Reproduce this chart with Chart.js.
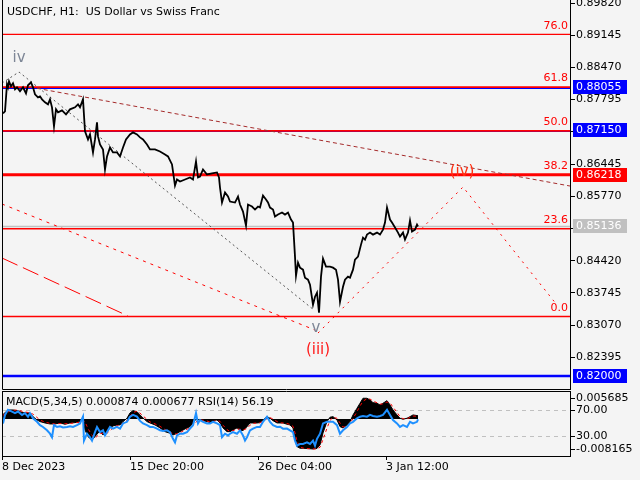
<!DOCTYPE html>
<html><head><meta charset="utf-8">
<script src="https://cdn.jsdelivr.net/npm/chart.js@4.4.1/dist/chart.umd.min.js"></script>
<style>
html,body{margin:0;padding:0;background:#f4f4f4;width:640px;height:480px;overflow:hidden}
#w1{position:absolute;left:0;top:0;width:640px;height:390px}
#w2{position:absolute;left:0;top:390px;width:640px;height:90px}
</style></head><body>
<div id="w1"><canvas id="main" width="640" height="390"></canvas></div>
<div id="w2"><canvas id="sub" width="640" height="90"></canvas></div>
<script>
// ---------------- DATA ----------------
const titleText = 'USDCHF, H1:  US Dollar vs Swiss Franc';
const subTitleText = 'MACD(5,34,5) 0.000874 0.000677 RSI(14) 56.19';

const priceTicks = [0.82395, 0.83070, 0.83745, 0.84420, 0.85095, 0.85770, 0.86445, 0.87120, 0.87795, 0.88470, 0.89145, 0.89820];
const timeTickBars = [2, 130, 258, 386];
const timeTickLabels = ['8 Dec 2023', '15 Dec 20:00', '26 Dec 04:00', '3 Jan 12:00'];

const priceBars = [3,5,7,8,9,11,13,15,17,20,23,26,28,31,33,35,38,40,42,45,48,50,52,54,56,58,62,66,70,75,78,80,83,85,88,90,93,95,97,98,100,103,105,107,110,113,117,120,123,126,130,133,137,140,143,147,
150,155,160,165,168,172,175,177,180,185,190,193,196,198,200,203,207,212,217,219,220,222,225,228,230,235,238,240,243,246,248,252,255,258,260,263,266,268,270,273,275,278,282,285,288,291,293,
294,295,296,298,300,303,305,308,310,313,315,317,319,321,323,326,330,333,336,338,340,343,345,348,350,353,355,358,361,363,365,367,370,373,377,380,383,385,387,390,392,395,398,400,403,405,408,410,412,415,417,418];
const closePrices = [0.87507,0.87549,0.88116,0.88053,0.88179,0.88074,0.88137,0.88011,0.88053,0.87969,0.88053,0.87927,0.88095,0.88158,0.88053,0.87906,0.87843,0.87864,0.87801,0.87738,0.87696,0.87801,0.87633,0.87234,0.87591,0.87528,0.87570,0.87486,0.87591,0.87633,0.87696,0.87633,0.87801,0.87129,0.86961,0.87066,0.86688,0.86961,0.87318,0.87024,0.86856,0.86751,0.86331,0.86604,0.86793,0.86688,0.86688,0.86604,0.86793,0.86961,0.87066,0.87108,0.87066,0.87003,0.86961,0.86856,
0.86751,0.86751,0.86709,0.86646,0.86604,0.86436,0.85995,0.86121,0.86079,0.86121,0.86163,0.86121,0.86499,0.86163,0.86184,0.86331,0.86226,0.86247,0.86268,0.86163,0.85953,0.85638,0.85848,0.85764,0.85659,0.85638,0.85764,0.85596,0.85449,0.85155,0.85596,0.85554,0.85491,0.85554,0.85533,0.85785,0.85701,0.85638,0.85533,0.85491,0.85344,0.85386,0.85428,0.85386,0.85428,0.85281,0.85218,
0.84861,0.84504,0.84105,0.84378,0.84273,0.84231,0.84063,0.84021,0.83916,0.83496,0.83664,0.83748,0.83328,0.84084,0.84462,0.84294,0.84294,0.84273,0.84231,0.84021,0.83559,0.83874,0.84021,0.84084,0.84063,0.84231,0.84441,0.84504,0.84756,0.84903,0.84861,0.84966,0.85008,0.84966,0.85008,0.84966,0.85071,0.85218,0.85533,0.85281,0.85218,0.85113,0.85008,0.84924,0.85008,0.84861,0.85008,0.85260,0.85029,0.85071,0.85176,0.85136];

const fibLevels = [0.0, 23.6, 38.2, 50.0, 61.8, 76.0];
const fibLowPrice = 0.83250;
const fibHighPrice = 0.91030;
const markedPrices = [0.88055, 0.87150, 0.86218, 0.85136, 0.82000];

const waveBars = [2, 19, 314];
const wavePrices = [0.88143, 0.88374, 0.83385];
const projBars = [318, 463, 557];
const projPrices = [0.82903, 0.85963, 0.83490];
const trendBars = [30, 570];
const trendPrices = [0.88059, 0.85984];
const chanABars = [2, 315];
const chanAPrices = [0.85607, 0.82966];
const chanBBars = [2, 128];
const chanBPrices = [0.84475, 0.83260];

const macdBars = [3,8,13,17,20,23,27,30,33,37,40,45,50,55,60,65,70,75,80,83,85,88,92,95,98,100,103,107,110,113,117,120,123,127,130,133,137,140,143,147,150,155,160,165,170,173,177,180,183,187,190,193,196,200,203,207,210,213,217,220,223,227,230,233,237,240,243,247,250,253,257,260,263,267,270,273,277,280,283,287,290,293,295,297,300,303,307,310,313,317,320,323,327,330,333,337,340,343,347,350,353,357,360,363,367,370,373,377,380,383,387,390,393,397,400,403,407,410,413,418];
const macdVals = [0.00120,0.00244,0.00244,0.00225,0.00198,0.00171,0.00163,0.00163,0.00062,-0.00027,-0.00073,-0.00109,-0.00136,-0.00136,-0.00109,-0.00144,-0.00109,-0.00100,-0.00073,0.00027,-0.00299,-0.00481,-0.00570,-0.00481,-0.00380,-0.00345,-0.00435,-0.00345,-0.00244,-0.00190,-0.00163,-0.00163,-0.00073,0.00019,0.00163,0.00225,0.00198,0.00109,0.00027,-0.00073,-0.00109,-0.00163,-0.00244,-0.00345,-0.00388,-0.00435,-0.00388,-0.00345,-0.00299,-0.00244,-0.00209,-0.00109,-0.00008,-0.00027,-0.00046,-0.00073,-0.00100,-0.00046,-0.00027,-0.00109,-0.00244,-0.00345,-0.00345,-0.00299,-0.00244,-0.00299,-0.00318,-0.00209,-0.00109,-0.00109,-0.00109,-0.00100,-0.00027,0.00062,0.00019,-0.00046,-0.00109,-0.00109,-0.00109,-0.00144,-0.00163,-0.00244,-0.00570,-0.00752,-0.00796,-0.00796,-0.00805,-0.00810,-0.00816,-0.00800,-0.00706,-0.00380,-0.00073,0.00046,0.00062,-0.00027,-0.00209,-0.00244,-0.00163,-0.00073,0.00109,0.00291,0.00426,0.00562,0.00562,0.00516,0.00443,0.00426,0.00380,0.00426,0.00497,0.00380,0.00244,0.00109,0.00019,-0.00008,0.00019,0.00062,0.00109,0.00087];
const signalVals = [0.00100,0.00190,0.00235,0.00240,0.00225,0.00200,0.00180,0.00168,0.00130,0.00040,-0.00030,-0.00085,-0.00120,-0.00135,-0.00125,-0.00130,-0.00125,-0.00105,-0.00090,-0.00040,-0.00080,-0.00260,-0.00450,-0.00520,-0.00450,-0.00390,-0.00390,-0.00390,-0.00320,-0.00240,-0.00185,-0.00165,-0.00120,-0.00040,0.00070,0.00170,0.00210,0.00160,0.00080,-0.00010,-0.00080,-0.00135,-0.00200,-0.00290,-0.00360,-0.00400,-0.00410,-0.00375,-0.00330,-0.00280,-0.00235,-0.00170,-0.00080,-0.00030,-0.00035,-0.00055,-0.00080,-0.00070,-0.00045,-0.00065,-0.00170,-0.00290,-0.00340,-0.00320,-0.00275,-0.00280,-0.00300,-0.00260,-0.00170,-0.00120,-0.00110,-0.00105,-0.00065,0.00010,0.00035,0.00000,-0.00070,-0.00105,-0.00110,-0.00125,-0.00150,-0.00200,-0.00380,-0.00600,-0.00760,-0.00790,-0.00805,-0.00810,-0.00815,-0.00815,-0.00770,-0.00560,-0.00250,-0.00040,0.00040,0.00020,-0.00110,-0.00220,-0.00200,-0.00120,0.00010,0.00200,0.00350,0.00480,0.00550,0.00540,0.00490,0.00440,0.00400,0.00410,0.00460,0.00440,0.00320,0.00180,0.00060,0.00005,0.00005,0.00040,0.00080,0.00068];

const rsiBars = [3,5,8,12,15,18,22,25,28,30,33,37,40,43,47,50,52,54,57,60,63,67,70,73,77,80,83,84,87,90,92,95,97,100,103,105,108,110,113,117,120,123,127,130,133,137,140,143,147,150,153,157,160,163,167,170,173,175,177,180,183,187,190,193,196,198,200,203,207,210,213,217,220,222,225,228,230,233,237,240,243,245,247,250,253,257,260,263,267,270,273,277,280,283,287,290,293,295,297,300,303,307,310,313,315,317,320,323,327,330,333,337,340,343,347,350,353,357,360,363,367,370,373,377,380,383,387,390,393,397,400,403,407,410,413,417,418];
const rsiVals = [50.1,63.2,71.1,68.4,65.9,68.4,63.2,65.9,60.5,65.9,58.0,52.6,47.4,44.7,39.5,34.3,28.9,47.4,44.7,45.8,43.8,44.7,45.8,44.7,47.4,50.1,60.5,23.7,34.3,28.9,23.7,36.8,44.7,36.8,39.5,31.6,39.5,44.7,42.2,44.7,42.2,50.1,52.6,60.5,63.2,60.5,54.0,50.1,47.4,44.7,44.7,42.2,39.5,38.4,39.5,36.8,26.4,21.0,31.6,34.3,34.3,36.8,42.2,47.4,65.9,50.1,55.3,52.6,50.1,50.1,52.6,50.1,47.4,28.9,34.3,31.6,34.3,36.8,34.3,39.5,31.6,23.7,28.9,39.5,42.2,44.7,44.7,52.6,60.5,52.6,47.4,44.7,45.0,42.0,42.2,39.5,36.8,23.7,15.8,18.5,18.5,21.0,18.5,23.7,15.8,26.4,34.3,50.1,52.6,52.6,52.6,47.4,34.3,39.5,44.7,50.1,52.6,58.0,60.5,61.6,60.5,63.2,61.6,60.5,61.6,63.2,71.1,63.2,55.3,50.1,44.7,47.4,44.7,52.6,50.1,52.6,56.19];
const rsiLevels = [30, 70];
const macdScaleLabels = [0.005685, -0.008165];

// ---------------- HELPERS ----------------
const FONT = '"DejaVu Sans"';
Chart.defaults.font.family = 'DejaVu Sans';
Chart.defaults.font.size = 11;
Chart.defaults.color = '#000';
const pts = (xs, ys) => xs.map((x, i) => ({x: x, y: ys[i]}));
const fibPrice = l => fibLowPrice + (fibHighPrice - fibLowPrice) * l / 100;
const X_MIN = 2, X_MAX = 570;
const hline = (v) => [{x: X_MIN, y: v}, {x: X_MAX, y: v}];

const fibWidths = {'0': 1.4, '23.6': 1.5, '38.2': 3, '50': 1.8, '61.8': 1.8, '76': 1.2};
// kind: 'under' = thin line just below a fib line (drawn by plugin), 'line' = own line, 'none' = box only
const markStyles = [
  {kind: 'under', color: '#0000ff', width: 1, box: '#0000ff'},
  {kind: 'under', color: '#0000ff', width: 1, box: '#0000ff'},
  {kind: 'none', box: '#ff0000'},
  {kind: 'line', color: '#c0c0c0', width: 1.4, box: '#c0c0c0'},
  {kind: 'line', color: '#0000ff', width: 2.5, box: '#0000ff'}
];

const base = {type: 'line', pointRadius: 0, tension: 0, fill: false};

const mainDatasets = [];
mainDatasets.push(Object.assign({}, base, {data: pts(priceBars, closePrices), borderColor: '#000', borderWidth: 1.8, order: 0}));
fibLevels.forEach(l => mainDatasets.push(Object.assign({}, base, {data: hline(fibPrice(l)), borderColor: '#ff0000', borderWidth: fibWidths[String(l)], order: 2})));
markedPrices.forEach((p, i) => { if (markStyles[i].kind === 'line') mainDatasets.push(Object.assign({}, base, {data: hline(p), borderColor: markStyles[i].color, borderWidth: markStyles[i].width, order: 3})); });
mainDatasets.push(Object.assign({}, base, {data: pts(waveBars, wavePrices), borderColor: '#555555', borderWidth: 1, borderDash: [2, 3], order: 1}));
mainDatasets.push(Object.assign({}, base, {data: pts(projBars, projPrices), borderColor: '#ff0000', borderWidth: 1, borderDash: [2, 5], order: 1}));
mainDatasets.push(Object.assign({}, base, {data: pts(trendBars, trendPrices), borderColor: '#a52a2a', borderWidth: 1, borderDash: [4, 3], order: 1}));
mainDatasets.push(Object.assign({}, base, {data: pts(chanABars, chanAPrices), borderColor: '#ff0000', borderWidth: 1, borderDash: [3, 5], order: 1}));
mainDatasets.push(Object.assign({}, base, {data: pts(chanBBars, chanBPrices), borderColor: '#ff0000', borderWidth: 1, borderDash: [17, 6], order: 1}));

const waveLabels = [
  {text: 'iv', bar: 19, price: 0.88667, color: '#7d8696'},
  {text: 'v', bar: 316, price: 0.83008, color: '#7d8696'},
  {text: '(iii)', bar: 318, price: 0.82547, color: '#ff1a1a'},
  {text: '(iv)', bar: 462, price: 0.86278, color: '#ff3010'}
];

const mainDecor = {
  id: 'mainDecor',
  beforeDatasetsDraw(chart) {
    const {ctx, chartArea: a} = chart;
    const y = chart.scales.y;
    ctx.save();
    markedPrices.forEach((p, i) => {
      const s = markStyles[i];
      if (s.kind !== 'under') return;
      const py = Math.round(y.getPixelForValue(p)) + 1.5;
      ctx.strokeStyle = s.color; ctx.lineWidth = s.width;
      ctx.beginPath(); ctx.moveTo(a.left, py); ctx.lineTo(a.right, py); ctx.stroke();
    });
    ctx.restore();
  },
  afterDraw(chart) {
    const {ctx, chartArea: a} = chart;
    const x = chart.scales.x, y = chart.scales.y;
    ctx.save();
    ctx.strokeStyle = '#000'; ctx.lineWidth = 1;
    ctx.beginPath();
    ctx.moveTo(a.left + 0.5, 0); ctx.lineTo(a.left + 0.5, a.bottom + 0.5); ctx.lineTo(a.right + 0.5, a.bottom + 0.5);
    ctx.moveTo(a.right + 0.5, 0); ctx.lineTo(a.right + 0.5, a.bottom);
    ctx.stroke();
    ctx.font = '11px ' + FONT; ctx.textBaseline = 'middle';
    ctx.fillStyle = '#000'; ctx.textAlign = 'left';
    ctx.fillText(titleText, 7, 12);
    ctx.fillStyle = '#ff0000'; ctx.textAlign = 'right';
    fibLevels.forEach(l => ctx.fillText(l.toFixed(1), a.right - 2, y.getPixelForValue(fibPrice(l)) - 8.5));
    ctx.font = '15px ' + FONT; ctx.textAlign = 'center';
    waveLabels.forEach(w => { ctx.fillStyle = w.color; ctx.fillText(w.text, x.getPixelForValue(w.bar), y.getPixelForValue(w.price)); });
    ctx.font = '11px ' + FONT; ctx.textAlign = 'left';
    markedPrices.forEach((p, i) => {
      const py = Math.round(y.getPixelForValue(p));
      ctx.fillStyle = markStyles[i].box;
      ctx.fillRect(a.right + 3, py - 7, 54, 14);
      ctx.fillStyle = '#ffffff';
      ctx.fillText(p.toFixed(5), a.right + 6, py);
    });
    ctx.restore();
  }
};

new Chart(document.getElementById('main'), {
  type: 'line',
  data: {datasets: mainDatasets},
  options: {
    responsive: false, animation: false, events: [],
    layout: {padding: {left: 2, top: 3, right: 0, bottom: 1}},
    plugins: {legend: {display: false}, tooltip: {enabled: false}},
    scales: {
      x: {type: 'linear', min: X_MIN, max: X_MAX, display: false},
      y: {
        type: 'linear', position: 'right', min: 0.8173, max: 0.8982,
        afterBuildTicks: s => { s.ticks = priceTicks.map(v => ({value: v})); },
        afterFit: s => { s.width = 70; s.paddingTop = 0; s.paddingBottom = 0; },
        grid: {drawOnChartArea: false, tickLength: 5, tickColor: '#000', tickWidth: 1},
        border: {color: '#000', width: 1},
        ticks: {padding: 1, color: '#000', font: {size: 11}, callback: v => Number(v).toFixed(5)}
      }
    }
  },
  plugins: [mainDecor]
});

// ---------------- SUB WINDOW ----------------
const subDatasets = [
  Object.assign({}, base, {data: pts(rsiBars, rsiVals), yAxisID: 'rsi', borderColor: '#1e90ff', borderWidth: 2, order: 0}),
  Object.assign({}, base, {data: pts(macdBars, signalVals), yAxisID: 'macd', borderColor: '#ff0000', borderWidth: 1, borderDash: [3, 3], order: 1}),
  Object.assign({}, base, {data: pts(macdBars, macdVals), yAxisID: 'macd', borderColor: '#000', borderWidth: 1, backgroundColor: '#000', fill: 'origin', order: 2})
];
rsiLevels.forEach(l => subDatasets.push(Object.assign({}, base, {data: hline(l), yAxisID: 'rsi', borderColor: '#c0c0c0', borderWidth: 1, borderDash: [4, 4], order: 3})));

const subDecor = {
  id: 'subDecor',
  afterDraw(chart) {
    const {ctx, chartArea: a} = chart;
    const m = chart.scales.macd;
    ctx.save();
    ctx.strokeStyle = '#000'; ctx.lineWidth = 1;
    ctx.beginPath();
    ctx.moveTo(a.left + 0.5, a.top + 0.5); ctx.lineTo(a.right + 0.5, a.top + 0.5);
    ctx.moveTo(a.left + 0.5, a.top); ctx.lineTo(a.left + 0.5, a.bottom + 0.5);
    macdScaleLabels.forEach(v => { const py = Math.round(m.getPixelForValue(v)) + 0.5; ctx.moveTo(a.right, py); ctx.lineTo(a.right + 5, py); });
    ctx.stroke();
    ctx.font = '11px ' + FONT; ctx.textBaseline = 'middle'; ctx.fillStyle = '#000'; ctx.textAlign = 'left';
    ctx.fillText(subTitleText, 6, 12.5);
    macdScaleLabels.forEach(v => ctx.fillText(v.toFixed(6), a.right + 6, Math.round(m.getPixelForValue(v))));
    ctx.restore();
  }
};

new Chart(document.getElementById('sub'), {
  type: 'line',
  data: {datasets: subDatasets},
  options: {
    responsive: false, animation: false, events: [],
    layout: {padding: {left: 2, top: 1, right: 0, bottom: 0}},
    plugins: {legend: {display: false}, tooltip: {enabled: false}},
    scales: {
      x: {
        type: 'linear', min: X_MIN, max: X_MAX, position: 'bottom',
        afterBuildTicks: s => { s.ticks = timeTickBars.map(v => ({value: v})); },
        afterFit: s => { s.height = 24; s.paddingLeft = 0; s.paddingRight = 0; },
        grid: {drawOnChartArea: false, tickLength: 4, tickColor: '#000'},
        border: {color: '#000', width: 1},
        ticks: {align: 'start', padding: 1, maxRotation: 0, minRotation: 0, autoSkip: false, color: '#000', font: {size: 11},
          callback: (v, i) => timeTickLabels[i]}
      },
      rsi: {
        type: 'linear', position: 'right', min: 0, max: 100,
        afterBuildTicks: s => { s.ticks = rsiLevels.map(v => ({value: v})); },
        afterFit: s => { s.width = 70; s.paddingTop = 0; s.paddingBottom = 0; },
        grid: {drawOnChartArea: false, tickLength: 5, tickColor: '#000'},
        border: {color: '#000', width: 1},
        ticks: {padding: 1, color: '#000', font: {size: 11}, callback: v => Number(v).toFixed(2)}
      },
      macd: {type: 'linear', display: false, min: -0.01007, max: 0.00759}
    }
  },
  plugins: [subDecor]
});
</script>
</body></html>
